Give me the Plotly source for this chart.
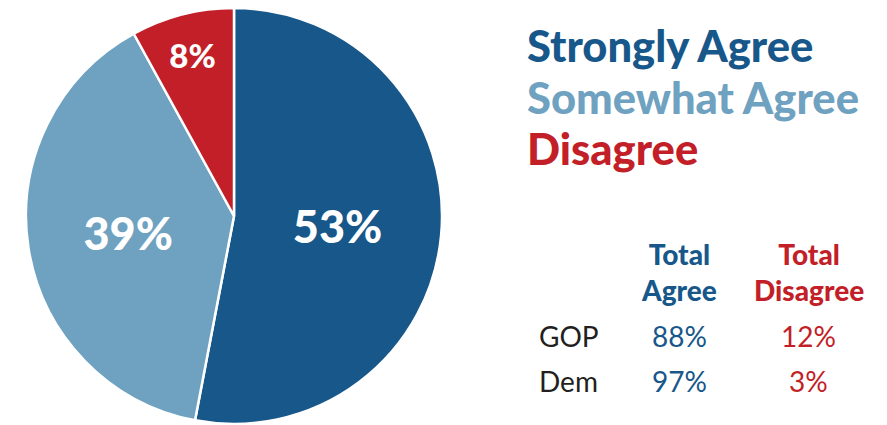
import plotly.graph_objects as go

labels = ["Strongly Agree", "Somewhat Agree", "Disagree"]
values = [53, 39, 8]
colors = ["#17578A", "#6FA1C0", "#C21F28"]

parties = ["GOP", "Dem"]
total_agree = ["88%", "97%"]
total_disagree = ["12%", "3%"]

W, H = 887, 425

fig = go.Figure()
fig.add_trace(go.Pie(
    labels=labels, values=values, sort=False, direction="clockwise", rotation=0,
    marker=dict(colors=colors, line=dict(color="white", width=2.5)),
    texttemplate="%{value}%", textposition="inside", insidetextorientation="horizontal",
    textfont=dict(family="Lato", size=[45, 45, 33], color="white", weight=900),
    domain=dict(x=[26 / W, 442 / W], y=[1 - 424 / H, 1 - 8 / H]),
    showlegend=False, hoverinfo="label+percent",
))

ann = []
leg_y = [45, 97, 148]
for lab, col, y in zip(labels, colors, leg_y):
    ann.append(dict(x=525 / W, y=1 - y / H, xref="paper", yref="paper", xanchor="left", yanchor="middle",
                    text=lab, showarrow=False, font=dict(family="Lato", size=43.5, color=col, weight=900)))

ann.append(dict(x=679 / W, y=1 - 272 / H, xref="paper", yref="paper", xanchor="center", yanchor="middle",
                text="Total<br>Agree", showarrow=False, font=dict(family="Lato", size=28, color=colors[0], weight=900)))
ann.append(dict(x=809 / W, y=1 - 272 / H, xref="paper", yref="paper", xanchor="center", yanchor="middle",
                text="Total<br>Disagree", showarrow=False, font=dict(family="Lato", size=28, color=colors[2], weight=900)))
row_y = [336, 381]
for p, a, d, y in zip(parties, total_agree, total_disagree, row_y):
    ann.append(dict(x=537 / W, y=1 - y / H, xref="paper", yref="paper", xanchor="left", yanchor="middle",
                    text=p, showarrow=False, font=dict(family="Lato", size=28, color="#231F20")))
    ann.append(dict(x=679 / W, y=1 - y / H, xref="paper", yref="paper", xanchor="center", yanchor="middle",
                    text=a, showarrow=False, font=dict(family="Lato", size=28, color=colors[0])))
    ann.append(dict(x=808 / W, y=1 - y / H, xref="paper", yref="paper", xanchor="center", yanchor="middle",
                    text=d, showarrow=False, font=dict(family="Lato", size=28, color=colors[2])))

fig.update_layout(
    width=W, height=H, margin=dict(l=0, r=0, t=0, b=0),
    paper_bgcolor="white", plot_bgcolor="white", annotations=ann,
)
fig.write_html("out.html", config={"displayModeBar": False},
               post_script="document.body.style.margin='0';document.body.style.overflow='hidden';")
